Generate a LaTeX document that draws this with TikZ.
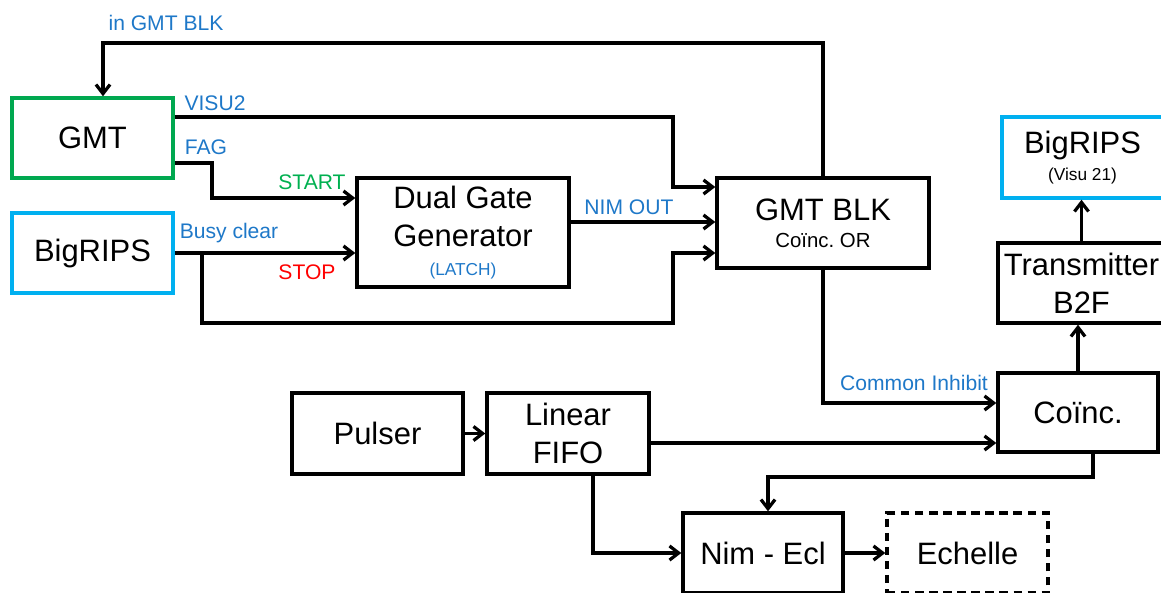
\documentclass[tikz,border=0pt]{standalone}
\usepackage{fontspec}
\setmainfont{Liberation Sans}
\usetikzlibrary{arrows.meta}
\definecolor{lblue}{RGB}{30,120,200}
\definecolor{boxcyan}{RGB}{0,176,240}
\definecolor{boxgreen}{RGB}{0,168,80}
\definecolor{startgreen}{RGB}{0,176,80}
\newcommand\bigfont{\fontsize{22}{27}\selectfont}
\newcommand\lblfont{\fontsize{15}{17}\selectfont}
\newcommand\midfont{\fontsize{14.5}{17}\selectfont}
\newcommand\tinyfont{\fontsize{12.3}{14}\selectfont}
\frenchspacing
\begin{document}
\begin{tikzpicture}[x=0.025cm, y=-0.025cm, line width=2.3pt,
  >={Straight Barb[length=6.5pt,width=10pt]},
  blk/.style={draw, line width=2.4pt, inner sep=1pt, align=center, font=\bigfont,
    minimum width=4.025cm, minimum height=2cm},
  lbl/.style={text=lblue, font=\lblfont, inner sep=0pt}]
\clip (0,0) rectangle (1161,592);
\node[blk, draw=boxgreen] (gmt) at (92.5,138) {GMT};
\node[blk, draw=boxcyan] (bigripsl) at (92.5,253) {BigRIPS};
\node[blk, minimum width=5.3cm, minimum height=2.725cm] (dgg) at (463,232.5)
  {Dual Gate\\Generator\\[-6pt]{\tinyfont\color{lblue}(LATCH)}};
\node[blk, minimum width=5.3cm, minimum height=2.25cm] (gmtblk) at (823,223)
  {GMT BLK\\[-8pt]{\midfont Coïnc. OR}};
\node[blk, draw=boxcyan, minimum height=2.025cm] (bigripsr) at (1082.5,157.5)
  {BigRIPS\\[-8pt]{\tinyfont (Visu 21)}};
\node[blk, minimum width=4.175cm] (transmitter) at (1081.5,283) {Transmitter\\B2F};
\node[blk, minimum width=4cm, minimum height=1.975cm] (coinc) at (1078,412.5) {Coïnc.};
\node[blk, minimum width=4.275cm, minimum height=2.025cm] (pulser) at (377.5,433.5) {Pulser};
\node[blk, minimum width=4.05cm, minimum height=2.025cm] (fifo) at (568,433.5) {Linear\\FIFO};
\node[blk, minimum width=4cm] (nimecl) at (763,553) {Nim - Ecl};
\node[blk, dash pattern=on 6pt off 4pt] (echelle) at (967.5,553) {Echelle};
% bends
\coordinate (inblk) at (103,43);
\coordinate (visu) at (673,117);
\coordinate (fag) at (212,163);
\coordinate (fagin) at (212,198);
\coordinate (busy) at (202,253);
\coordinate (busylow) at (202,323);
\coordinate (orin1) at (673,187);
\coordinate (nimout) at (569,222);
\coordinate (orin3) at (673,253);
\coordinate (inhib) at (828,403);
\coordinate (fifoout) at (649,443);
\coordinate (coincdown) at (1093,477);
\coordinate (nimin) at (768,477);
\coordinate (fifodown) at (593,553);
% connectors
\draw[->] (gmtblk.north) |- (inblk) -- (inblk |- gmt.north);
\draw[->] (gmt.east |- visu) -- (visu) |- (gmtblk.west |- orin1);
\draw[->] (gmt.east |- fag) -| (fagin) -- (fagin -| dgg.west);
\draw[->] (bigripsl.east) -- (bigripsl.east -| dgg.west);
\draw[->] (busy) -- (busylow) -| (orin3) -- (orin3 -| gmtblk.west);
\draw[->] (dgg.east |- nimout) -- (nimout -| gmtblk.west);
\draw[->] (gmtblk.south) |- (coinc.west |- inhib);
\draw[->] (fifo.east |- fifoout) -- (fifoout -| coinc.west);
\draw[->] (coincdown |- coinc.south) -- (coincdown) -- (nimin) -- (nimin |- nimecl.north);
\draw[->] (fifodown |- fifo.south) -- (fifodown) -- (nimecl.west);
\draw[->] (nimecl) -- (echelle);
\draw[->] (pulser) -- (fifo);
\draw[->] (coinc.north) -- (coinc.north |- transmitter.south);
\draw[->] (transmitter.north) -- (transmitter.north |- bigripsr.south);
% labels
\node[lbl] (linblk) at (166,23) {in GMT BLK};
\node[lbl] (lvisu) at (215,103) {VISU2};
\node[lbl] (lfag) at (206,147) {FAG};
\node[lbl, text=startgreen] (lstart) at (312,182) {START};
\node[lbl] (lbusy) at (229,233) {Busy clear};
\node[lbl, text=red] (lstop) at (307,272) {STOP};
\node[lbl] (lnim) at (629,207) {NIM OUT};
\node[lbl] (linhib) at (914,383) {Common Inhibit};
\end{tikzpicture}
\end{document}
